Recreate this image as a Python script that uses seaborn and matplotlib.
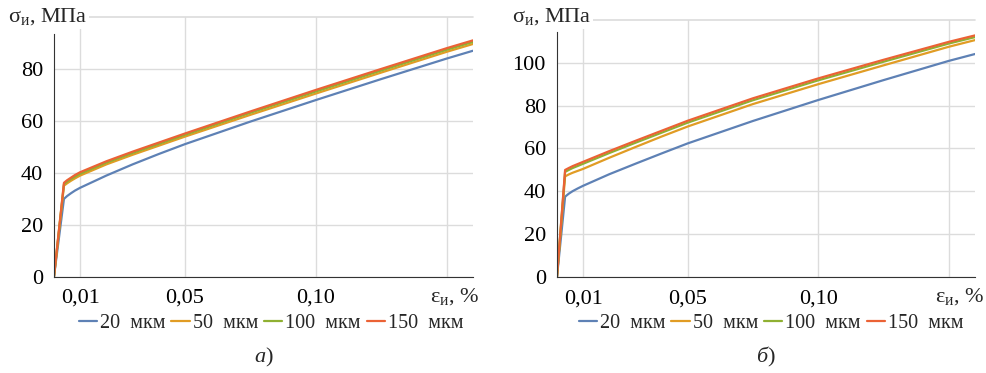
import numpy as np
import pandas as pd
import matplotlib
matplotlib.use("Agg")
import matplotlib.pyplot as plt
import seaborn as sns

# ---------------- data ----------------
sizes = ["20\u2002мкм", "50\u2002мкм", "100\u2002мкм", "150\u2002мкм"]
colors = ["#5E81B5", "#E19C24", "#8FB032", "#EB6235"]

# panel a)
eps_a = [0, 0.0038, 0.005, 0.0065, 0.008, 0.01, 0.02, 0.03, 0.04, 0.05, 0.075, 0.10, 0.125, 0.15, 0.16]
sig_a_20 = [0, 29.9, 31.0, 32.1, 33.1, 34.2, 38.9, 43.2, 47.2, 51.0, 59.7, 68.0, 76.1, 84.0, 87.0]
sig_a_50 = [0, 35.0, 35.9, 36.9, 37.8, 38.9, 43.2, 46.9, 50.4, 53.9, 62.3, 70.5, 78.6, 86.6, 89.6]
sig_a_100 = [0, 35.6, 36.6, 37.6, 38.5, 39.6, 43.9, 47.6, 51.1, 54.6, 63.1, 71.3, 79.4, 87.4, 90.4]
sig_a_150 = [0, 36.1, 37.1, 38.1, 39.1, 40.2, 44.4, 48.1, 51.6, 55.1, 63.6, 71.9, 80.0, 88.0, 91.0]

# panel б)
eps_b = [0, 0.0031, 0.0045, 0.006, 0.008, 0.01, 0.02, 0.03, 0.04, 0.05, 0.075, 0.10, 0.125, 0.15, 0.16]
sig_b_20 = [0, 37.4, 38.8, 40.0, 41.3, 42.5, 47.9, 52.8, 57.6, 62.3, 72.8, 82.6, 91.9, 100.9, 104.1]
sig_b_50 = [0, 46.9, 47.8, 48.6, 49.5, 50.4, 55.6, 60.6, 65.5, 70.2, 80.7, 90.0, 98.8, 107.5, 110.6]
sig_b_100 = [0, 49.0, 49.9, 50.8, 51.8, 52.8, 57.8, 62.6, 67.3, 72.0, 82.5, 91.8, 100.5, 109.0, 112.0]
sig_b_150 = [0, 49.9, 50.8, 51.7, 52.7, 53.7, 58.7, 63.5, 68.2, 72.9, 83.4, 92.7, 101.4, 109.8, 112.8]

x_ticks = [0.01, 0.05, 0.10, 0.15]
x_ticklabels = ["0,01", "0,05", "0,10", ""]


def long_frame(eps, series):
    rows = []
    for name, vals in zip(sizes, series):
        for e, s in zip(eps, vals):
            rows.append({"eps": e, "sigma": s, "size": name})
    return pd.DataFrame(rows)


df_a = long_frame(eps_a, [sig_a_20, sig_a_50, sig_a_100, sig_a_150])
df_b = long_frame(eps_b, [sig_b_20, sig_b_50, sig_b_100, sig_b_150])

# ---------------- style ----------------
sns.set_style("white")
plt.rcParams["font.family"] = ["Liberation Serif", "DejaVu Serif"]
plt.rcParams["mathtext.fontset"] = "custom"
plt.rcParams["mathtext.rm"] = "Liberation Serif"
plt.rcParams["mathtext.it"] = "Liberation Serif:italic"

W, H = 986, 373
fig = plt.figure(figsize=(W / 100, H / 100), dpi=100)


def px_box(x0, x1, ytop, ybot):
    return [x0 / W, 1 - ybot / H, (x1 - x0) / W, (ybot - ytop) / H]


grid_c = "#dcdcdc"
fs = 16
panels = [
    dict(df=df_a, box=px_box(54, 473, 17, 276.5), ymax=100, yticks=[0, 20, 40, 60, 80],
         spine_top=93.5, ylab_x=8, xlab_x=479, cap="а", leg_x=271),
    dict(df=df_b, box=px_box(557, 975, 20, 276.7), ymax=120, yticks=[0, 20, 40, 60, 80, 100],
         spine_top=114.5, ylab_x=512, xlab_x=984, cap="б", leg_x=771),
]

for p in panels:
    ax = fig.add_axes(p["box"])
    sns.lineplot(data=p["df"], x="eps", y="sigma", hue="size", hue_order=sizes,
                 palette=colors, linewidth=1.6, ax=ax, legend=True)
    ax.set_xlim(0, 0.16)
    ax.set_ylim(0, p["ymax"])
    ax.set_xticks(x_ticks)
    ax.set_xticklabels(x_ticklabels)
    ax.set_yticks(p["yticks"])
    ax.set_yticks(np.arange(0, p["spine_top"], 5), minor=True)
    ax.set_xlabel("")
    ax.set_ylabel("")
    ax.grid(True, which="major", color=grid_c, linewidth=1.0)
    ax.axhline(p["ymax"], color=grid_c, linewidth=1.2, clip_on=False, zorder=0)
    ax.set_axisbelow(True)
    for s in ["top", "right"]:
        ax.spines[s].set_visible(False)
    ax.spines["left"].set_bounds(0, p["spine_top"])
    ax.spines["left"].set_color("#333333")
    ax.spines["bottom"].set_color("#333333")
    ax.tick_params(axis="both", which="major", direction="in", length=5, width=0.8,
                   labelsize=fs, colors="#333333", labelcolor="black")
    ax.tick_params(axis="y", which="major", pad=8)
    ax.tick_params(axis="x", which="major", pad=9)
    ax.tick_params(axis="y", which="minor", direction="in", length=3, width=0.7, colors="#333333")

    handles, labels = ax.get_legend_handles_labels()
    ax.get_legend().remove()
    fig.legend(handles, labels, loc="center", bbox_to_anchor=(p["leg_x"] / W, 1 - 323 / H),
               ncol=4, frameon=False, fontsize=14.5, handlelength=0.9, handletextpad=0.15,
               columnspacing=0.3, borderaxespad=0)

    x0 = p["box"][0]
    fig.text(p["ylab_x"] / W, 1 - 17 / H, "σ$_{\\mathrm{и}}$, МПа", fontsize=fs,
             va="center", ha="left", bbox=dict(facecolor="white", edgecolor="none", pad=1))
    fig.text(p["xlab_x"] / W, 1 - 297 / H, "ε$_{\\mathrm{и}}$, %", fontsize=fs,
             va="center", ha="right")
    fig.text(x0 + p["box"][2] / 2, 1 - 357 / H, "$\\mathit{" + p["cap"] + "}$)", fontsize=fs,
             va="center", ha="center")

fig.savefig("out.png", dpi=100)
